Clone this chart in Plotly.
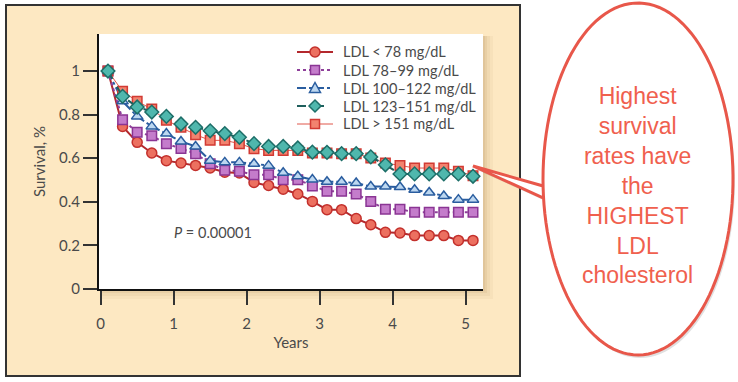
import math
import plotly.graph_objects as go

years = [0.1, 0.3, 0.5, 0.7, 0.9, 1.1, 1.3, 1.5, 1.7, 1.9, 2.1, 2.3, 2.5,
         2.7, 2.9, 3.1, 3.3, 3.5, 3.7, 3.9, 4.1, 4.3, 4.5, 4.7, 4.9, 5.1]

ldl_lt78 = [1.0, 0.746, 0.673, 0.624, 0.589, 0.578, 0.567, 0.555, 0.536, 0.532,
            0.489, 0.475, 0.458, 0.436, 0.402, 0.364, 0.364, 0.323, 0.295, 0.260,
            0.257, 0.245, 0.245, 0.245, 0.223, 0.223]
ldl_78_99 = [1.0, 0.777, 0.719, 0.703, 0.667, 0.645, 0.621, 0.575, 0.545, 0.54,
             0.524, 0.524, 0.501, 0.501, 0.473, 0.448, 0.448, 0.436, 0.401, 0.366,
             0.366, 0.352, 0.352, 0.352, 0.352, 0.352]
ldl_100_122 = [1.0, 0.861, 0.792, 0.746, 0.713, 0.677, 0.654, 0.589, 0.581, 0.581,
               0.575, 0.566, 0.533, 0.517, 0.502, 0.492, 0.492, 0.486, 0.47, 0.47,
               0.468, 0.455, 0.443, 0.427, 0.41, 0.41]
ldl_123_151 = [1.0, 0.884, 0.835, 0.812, 0.792, 0.757, 0.742, 0.726, 0.713, 0.696,
               0.667, 0.654, 0.654, 0.647, 0.628, 0.627, 0.621, 0.621, 0.606, 0.57,
               0.528, 0.528, 0.528, 0.528, 0.528, 0.517]
ldl_gt151 = [1.0, 0.907, 0.861, 0.826, 0.774, 0.742, 0.708, 0.682, 0.682, 0.667,
             0.644, 0.636, 0.636, 0.636, 0.624, 0.624, 0.621, 0.621, 0.601, 0.578,
             0.567, 0.555, 0.555, 0.555, 0.54, 0.52]

series_names = ["LDL < 78 mg/dL", "LDL 78–99 mg/dL", "LDL 100–122 mg/dL",
                "LDL 123–151 mg/dL", "LDL > 151 mg/dL"]

x_ticks = [0, 1, 2, 3, 4, 5]
x_ticklabels = ["0", "1", "2", "3", "4", "5"]
y_ticks = [0, 0.2, 0.4, 0.6, 0.8, 1.0]
y_ticklabels = ["0", "0.2", "0.4", "0.6", "0.8", "1"]

callout_lines = ["Highest", "survival", "rates have", "the", "HIGHEST", "LDL", "cholesterol"]

FONT = "Lato"
TXT = "#4a4a4a"

W, H = 738, 382
ML, MR, MT, MB = 99, 255, 34, 93
PW, PH = W - ML - MR, H - MT - MB


def px(xp):
    return (xp - ML) / PW


def py(yp):
    return (H - MB - yp) / PH


fig = go.Figure()

styles = [
    dict(lc="#b3282d", lw=2, dash="solid", sym="circle", ms=10, fc="#ec7060", mlc="#c3302c"),
    dict(lc="#8e3f9a", lw=2, dash="dot", sym="square", ms=9.5, fc="#c47ccb", mlc="#8a3594"),
    dict(lc="#2a5d9f", lw=2, dash="dashdot", sym="triangle-up", ms=10, fc="#bcd7f0", mlc="#2a5d9f"),
    dict(lc="#1f5f5c", lw=2, dash="dash", sym="diamond", ms=10.5, fc="#4fb7ad", mlc="#1d6e68"),
    dict(lc="#e0574b", lw=1, dash="solid", sym="square", ms=9.5, fc="#f2836f", mlc="#d23a33"),
]
data = [ldl_lt78, ldl_78_99, ldl_100_122, ldl_123_151, ldl_gt151]
draw_order = [0, 1, 2, 4, 3]

for i in draw_order:
    s = styles[i]
    fig.add_trace(go.Scatter(
        x=years, y=data[i], name=series_names[i], mode="lines+markers",
        showlegend=False,
        line=dict(color=s["lc"], width=s["lw"], dash=s["dash"]),
        marker=dict(symbol=s["sym"], size=s["ms"], color=s["fc"],
                    line=dict(color=s["mlc"], width=1.5)),
    ))

shapes = []
# beige panel
shapes.append(dict(type="rect", xref="paper", yref="paper", layer="below",
                   x0=px(6), x1=px(520), y0=py(376), y1=py(5),
                   fillcolor="#fde8c2", line=dict(color="#333333", width=2)))
# shadow of the white plot area
for k, a in [(10, 0.05), (7, 0.06), (4, 0.08), (2, 0.08)]:
    shapes.append(dict(type="rect", xref="paper", yref="paper", layer="below",
                       x0=px(ML + 2), x1=px(ML + PW + k), y0=py(MT + PH + k), y1=py(MT + 2),
                       fillcolor="rgba(140,95,30,%g)" % a, line=dict(width=0)))
# white plot area
shapes.append(dict(type="rect", xref="paper", yref="paper", layer="below",
                   x0=0, x1=1, y0=0, y1=1, fillcolor="white", line=dict(width=0)))

# legend key (drawn as decoration)
annotations = []
for i, s in enumerate(styles):
    yc = 52 + 18 * i
    shapes.append(dict(type="line", xref="paper", yref="paper", layer="above",
                       x0=px(297), x1=px(333), y0=py(yc), y1=py(yc),
                       line=dict(color=s["lc"], width=s["lw"], dash=s["dash"])))
    mk = dict(xref="paper", yref="paper", layer="above", fillcolor=s["fc"],
              line=dict(color=s["mlc"], width=1.5))
    if s["sym"] == "circle":
        shapes.append(dict(type="circle", x0=px(310), x1=px(320), y0=py(yc + 5), y1=py(yc - 5), **mk))
    elif s["sym"] == "square":
        shapes.append(dict(type="rect", x0=px(310.5), x1=px(319.5), y0=py(yc + 4.5), y1=py(yc - 4.5), **mk))
    elif s["sym"] == "triangle-up":
        shapes.append(dict(type="path", path="M %f,%f L %f,%f L %f,%f Z" % (
            px(309.5), py(yc + 4.5), px(320.5), py(yc + 4.5), px(315), py(yc - 5.5)), **mk))
    else:
        shapes.append(dict(type="path", path="M %f,%f L %f,%f L %f,%f L %f,%f Z" % (
            px(315), py(yc - 6), px(321), py(yc), px(315), py(yc + 6), px(309), py(yc)), **mk))
    annotations.append(dict(x=px(341), y=py(yc), xref="paper", yref="paper",
                            xanchor="left", yanchor="middle", text=series_names[i],
                            showarrow=False, font=dict(family=FONT, size=14.5, color=TXT)))

# callout bubble
cx, cy, rx, ry = 638, 179, 95, 176
tip = (473, 166)
th_l = math.pi - math.asin((186 - cy) / ry)
th_u = math.pi + math.asin((160 - cy) / ry)


def bubble_path(dx=0, dy=0):
    pts = [(tip[0] + dx, tip[1] + dy)]
    n = 120
    t0, t1 = th_l, th_u - 2 * math.pi
    for j in range(n + 1):
        t = t0 + (t1 - t0) * j / n
        pts.append((cx + rx * math.cos(t) + dx, cy + ry * math.sin(t) + dy))
    d = "M %f,%f " % (px(pts[0][0]), py(pts[0][1]))
    d += " ".join("L %f,%f" % (px(a), py(b)) for a, b in pts[1:])
    return d + " Z"


shapes.append(dict(type="path", xref="paper", yref="paper", layer="above",
                   path=bubble_path(2, 3), fillcolor="rgba(0,0,0,0.12)", line=dict(width=0)))
shapes.append(dict(type="path", xref="paper", yref="paper", layer="above",
                   path=bubble_path(), fillcolor="white",
                   line=dict(color="#e8574a", width=3)))

annotations.append(dict(x=1.54, y=0.261, xref="x", yref="y", text="<i>P</i> = 0.00001",
                        showarrow=False, font=dict(family=FONT, size=14.5, color=TXT)))
annotations.append(dict(x=px(637.5), y=py(185), xref="paper", yref="paper",
                        xanchor="center", yanchor="middle",
                        text="<br>".join(callout_lines), showarrow=False, align="center",
                        font=dict(family="Liberation Sans, Arial", size=23, color="#f0604e")))

fig.update_layout(
    width=W, height=H,
    margin=dict(l=ML, r=MR, t=MT, b=MB),
    paper_bgcolor="white",
    plot_bgcolor="white",
    shapes=shapes,
    showlegend=False,
    xaxis=dict(range=[-0.023, 5.237], tickvals=x_ticks, ticktext=x_ticklabels,
               showgrid=False, zeroline=False, showline=True, linecolor="#111", linewidth=2,
               ticks="outside", ticklen=14, tickwidth=1.5, tickcolor="#333",
               ticklabelstandoff=6,
               tickfont=dict(family=FONT, size=15, color=TXT),
               title=dict(text="Years", font=dict(family=FONT, size=15, color=TXT), standoff=6)),
    yaxis=dict(range=[0, 1.17], tickvals=y_ticks, ticktext=y_ticklabels,
               showgrid=False, zeroline=False, showline=True, linecolor="#111", linewidth=2,
               ticks="outside", ticklen=14, tickwidth=1.5, tickcolor="#333",
               tickfont=dict(family=FONT, size=15, color=TXT),
               title=dict(text="Survival, %", font=dict(family=FONT, size=15, color=TXT), standoff=10)),
    annotations=annotations,
)

fig.write_html("out.html", config={"displayModeBar": False},
               post_script="document.body.style.margin='0';")
